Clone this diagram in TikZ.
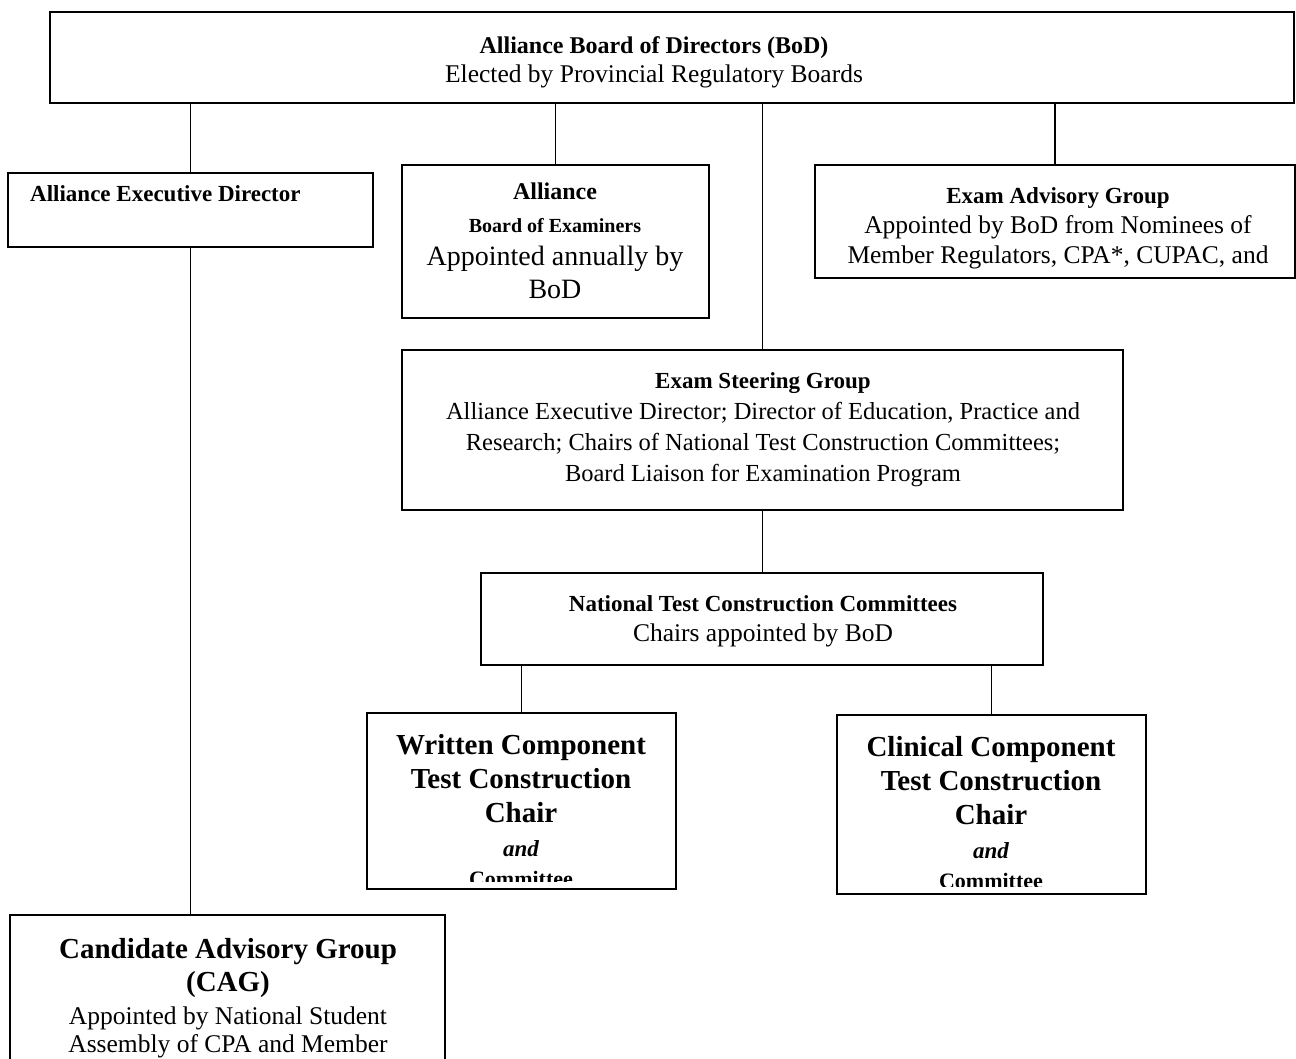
\documentclass[tikz,border=0pt]{standalone}
\usepackage{fontspec}
\setmainfont{Liberation Serif}

\tikzset{
	orgbox/.style={draw, line width=1.6pt, anchor=north west, inner sep=0pt, outer sep=0pt},
	orglabel/.style={anchor=north, align=center, inner sep=0pt},
	orgline/.style={line width=1.3pt},
}
\newcommand{\orgtitle}[1]{{\fontsize{23}{30}\selectfont\bfseries #1}}
\newcommand{\orgbig}[1]{{\fontsize{29}{34}\selectfont\bfseries #1}}

\begin{document}
\begin{tikzpicture}[x=1pt, y=-1pt]
			\useasboundingbox (0,0) rectangle (1296,1059);
			% boxes
			\node (bod) [orgbox, minimum width=1244pt, minimum height=91pt] at (50,12) {};
			\node (exec) [orgbox, minimum width=365pt, minimum height=74pt] at (8,173) {};
			\node (boe) [orgbox, minimum width=307pt, minimum height=153pt] at (402,165) {};
			\node (eag) [orgbox, minimum width=480pt, minimum height=113pt] at (815,165) {};
			\node (esg) [orgbox, minimum width=721pt, minimum height=160pt] at (402,350) {};
			\node (ntcc) [orgbox, minimum width=562pt, minimum height=92pt] at (481,573) {};
			\node (wcc) [orgbox, minimum width=309pt, minimum height=176pt] at (367,713) {};
			\node (ccc) [orgbox, minimum width=309pt, minimum height=179pt] at (837,715) {};
			\node (cag) [orgbox, minimum width=435pt, minimum height=170pt] at (10,915) {};
			
			% texts
			\node (bodtext) [orglabel, font=\fontsize{25.5}{29}\selectfont] at (654,36) {{\fontsize{24}{29}\selectfont\bfseries Alliance Board of Directors (BoD)}\\Elected by Provincial Regulatory Boards};
			\node (exectext) [anchor=mid west, inner sep=0pt] at (30,199) {\orgtitle{Alliance Executive Director}};
			\node (boetext) [orglabel, font=\fontsize{28}{33}\selectfont] at (555,183) {{\fontsize{24}{33}\selectfont\bfseries Alliance}\\{\fontsize{20}{33}\selectfont\bfseries Board of Examiners}\\Appointed annually by\\BoD};
			\node (eagtext) [orglabel, font=\fontsize{25.5}{30}\selectfont] at (1058,187) {\orgtitle{Exam Advisory Group}\\Appointed by BoD from Nominees of\\Member Regulators, CPA*, CUPAC, and};
			\node (esgtext) [orglabel, font=\fontsize{24.5}{31}\selectfont] at (763,372) {\orgtitle{Exam Steering Group}\\Alliance Executive Director; Director of Education, Practice and\\Research; Chairs of National Test Construction Committees;\\Board Liaison for Examination Program};
			\node (ntcctext) [orglabel, font=\fontsize{25.5}{30}\selectfont] at (763,595) {\orgtitle{National Test Construction Committees}\\Chairs appointed by BoD};
			\begin{scope}
				\clip (wcc.north west) rectangle ([yshift=8pt]wcc.south east);
				\node (wcctext) [orglabel, font=\fontsize{29}{34}\selectfont\bfseries] at (521,734) {Written Component\\Test Construction\\Chair\\{\fontsize{23}{34}\selectfont\itshape and}\\[-4pt]{\fontsize{22}{30}\selectfont Committee}};
			\end{scope}
			\begin{scope}
				\clip (ccc.north west) rectangle ([yshift=8pt]ccc.south east);
				\node (ccctext) [orglabel, font=\fontsize{29}{34}\selectfont\bfseries] at (991,736) {Clinical Component\\Test Construction\\Chair\\{\fontsize{23}{34}\selectfont\itshape and}\\[-4pt]{\fontsize{22}{30}\selectfont Committee}};
			\end{scope}
			\node (cagtext) [orglabel, font=\fontsize{25.5}{33}\selectfont] at (228,938) {\orgbig{Candidate Advisory Group}\\\orgbig{(CAG)}\\Appointed by National Student\\[-5pt]Assembly of CPA and Member};
			
			% connectors
			\draw [orgline] (bod.south -| exec.north) -- (exec.north);
			\draw [orgline] (bod.south -| boe.north) -- (boe.north);
			\draw [orgline] (bod.south -| esg.north) -- (esg.north);
			\draw [orgline] (bod.south -| eag.north) -- (eag.north);
			\draw [orgline] (exec.south) -- (exec.south |- cag.north);
			\draw [orgline] (esg.south) -- (esg.south |- ntcc.north);
			\draw [orgline] (wcc.north |- ntcc.south) -- (wcc.north);
			\draw [orgline] (ccc.north |- ntcc.south) -- (ccc.north);
\end{tikzpicture}
\end{document}
